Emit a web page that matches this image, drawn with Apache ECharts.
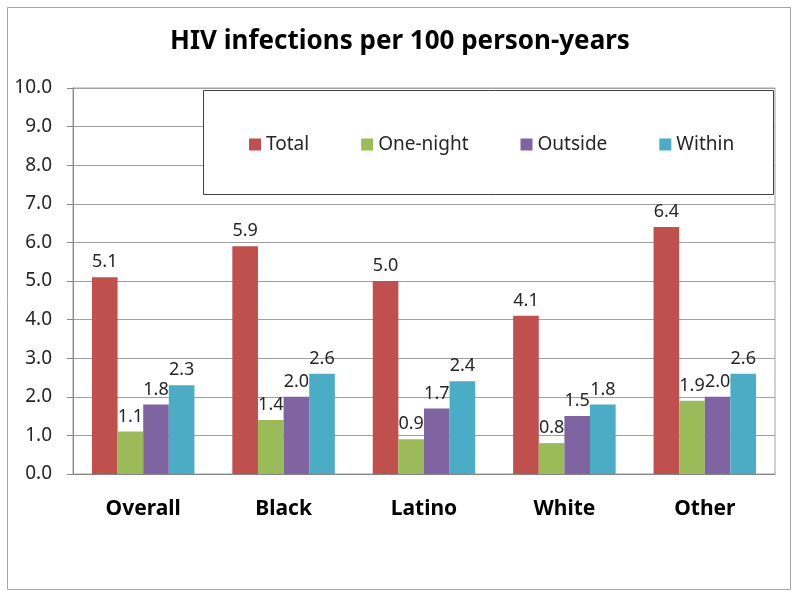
<!DOCTYPE html>
<html>
<head>
<meta charset="utf-8">
<script src="https://cdn.jsdelivr.net/npm/echarts@6/dist/echarts.min.js"></script>
<style>
html,body{margin:0;padding:0;background:#fff;}
#main{width:800px;height:598px;}
</style>
</head>
<body>
<div id="main"></div>
<script>
const categories = ['Overall', 'Black', 'Latino', 'White', 'Other'];
const totalValues = [5.1, 5.9, 5.0, 4.1, 6.4];
const oneNightValues = [1.1, 1.4, 0.9, 0.8, 1.9];
const outsideValues = [1.8, 2.0, 1.7, 1.5, 2.0];
const withinValues = [2.3, 2.6, 2.4, 1.8, 2.6];
const seriesNames = ['Total', 'One-night', 'Outside', 'Within'];
const colors = ['#C0504D', '#9BBB59', '#8064A2', '#4BACC6'];

const font = 'Noto Sans';
const chart = echarts.init(document.getElementById('main'));
const allValues = [totalValues, oneNightValues, outsideValues, withinValues];

chart.setOption({
  animation: false,
  backgroundColor: '#fff',
  title: {
    text: 'HIV infections per 100 person-years',
    left: 'center',
    top: 24,
    textStyle: { fontFamily: font, fontSize: 26, fontWeight: 'bold', color: '#000' }
  },
  graphic: [
    { type: 'rect', shape: { x: 7.5, y: 7.5, width: 783, height: 582 }, style: { fill: 'none', stroke: '#a6a6a6', lineWidth: 1 }, z: 0 },
    { type: 'rect', shape: { x: 203.5, y: 90.5, width: 570, height: 104 }, style: { fill: '#fff', stroke: '#404040', lineWidth: 1 }, z: 5 }
  ],
  legend: {
    data: seriesNames,
    left: 244,
    top: 130,
    itemWidth: 12,
    itemHeight: 12,
    itemGap: 52,
    icon: 'rect',
    z: 10,
    textStyle: { fontFamily: font, fontSize: 19, color: '#262626' }
  },
  grid: {
    left: 73, right: 25, top: 88, bottom: 124,
    show: true, borderColor: '#a0a0a0', borderWidth: 1, containLabel: false
  },
  xAxis: {
    type: 'category',
    data: categories,
    axisLine: { lineStyle: { color: '#868686' } },
    axisTick: { show: false },
    axisLabel: { margin: 25, fontFamily: font, fontSize: 21, fontWeight: 'bold', color: '#000' }
  },
  yAxis: {
    type: 'value',
    min: 0, max: 10, interval: 1,
    axisLine: { show: true, lineStyle: { color: '#868686' } },
    axisTick: { show: true, length: 6, lineStyle: { color: '#868686' } },
    splitLine: { lineStyle: { color: '#a0a0a0' } },
    axisLabel: { margin: 21, fontFamily: font, fontSize: 19, color: '#262626', formatter: v => v.toFixed(1) }
  },
  series: seriesNames.map((name, i) => ({
    name: name,
    type: 'bar',
    data: allValues[i],
    barGap: '0%',
    barCategoryGap: '27%',
    itemStyle: { color: colors[i] },
    label: {
      show: true, position: 'top', distance: 6,
      fontFamily: font, fontSize: 18, color: '#262626',
      formatter: p => p.value.toFixed(1)
    }
  }))
});
</script>
</body>
</html>
